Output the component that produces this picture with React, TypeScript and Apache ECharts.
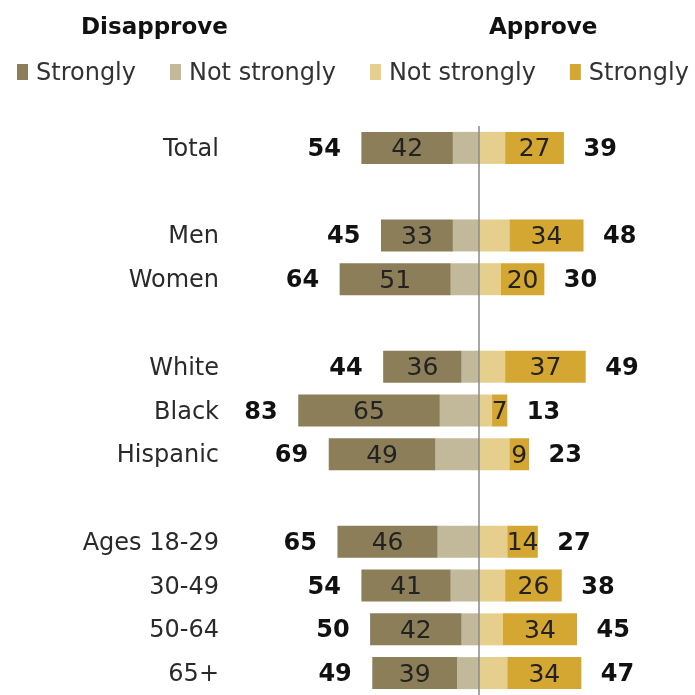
import React, { useEffect, useRef } from "react";
import * as echarts from "echarts";

const categories = ["Total", "", "Men", "Women", " ", "White", "Black", "Hispanic", "  ", "Ages 18-29", "30-49", "50-64", "65+"];
const disapproveTotal = [54, null, 45, 64, null, 44, 83, 69, null, 65, 54, 50, 49];
const disapproveStrongly = [42, null, 33, 51, null, 36, 65, 49, null, 46, 41, 42, 39];
const disapproveNotStrongly = [12, null, 12, 13, null, 8, 18, 20, null, 19, 13, 8, 10];
const approveNotStrongly = [12, null, 14, 10, null, 12, 6, 14, null, 13, 12, 11, 13];
const approveStrongly = [27, null, 34, 20, null, 37, 7, 9, null, 14, 26, 34, 34];
const approveTotal = [39, null, 48, 30, null, 49, 13, 23, null, 27, 38, 45, 47];

const FONT = "DejaVu Sans";
const C_DIS_STRONG = "#8C7E58";
const C_DIS_NOT = "#C2B99B";
const C_APP_NOT = "#E6CF8C";
const C_APP_STRONG = "#D4A632";

export default function App() {
  const ref = useRef<HTMLDivElement>(null);
  useEffect(() => {
    if (!ref.current) return;
    const chart = echarts.init(ref.current, null, { renderer: "svg" });
    const neg = (arr: (number | null)[]) => arr.map((v) => (v == null ? null : -v));
    const absFmt = (p: any) => {
      const v = Array.isArray(p.value) ? p.value[0] : p.value;
      return v == null ? "" : String(Math.abs(v));
    };
    const barBase = {
      type: "bar",
      stack: "s",
      barWidth: 32,
    };
    chart.setOption({
      animation: false,
      textStyle: { fontFamily: FONT },
      title: [
        { text: "Disapprove", left: 76, top: 9, textStyle: { fontFamily: FONT, fontSize: 23, fontWeight: "bold", color: "#111" } },
        { text: "Approve", left: 484, top: 9, textStyle: { fontFamily: FONT, fontSize: 23, fontWeight: "bold", color: "#111" } },
      ],
      legend: {
        left: 12,
        top: 55,
        icon: "rect",
        itemWidth: 11,
        itemHeight: 16,
        itemGap: 34,
        selectedMode: false,
        data: ["Disapprove: Strongly", "Disapprove: Not strongly", "Approve: Not strongly", "Approve: Strongly"],
        formatter: (name: string) => name.split(": ")[1],
        textStyle: { fontFamily: FONT, fontSize: 24, color: "#333", padding: [0, 0, 0, 3] },
      },
      grid: { left: 283, width: 392, top: 126, height: 569 },
      xAxis: {
        type: "value",
        min: -90,
        max: 90,
        show: false,
      },
      yAxis: {
        type: "category",
        inverse: true,
        data: categories,
        axisLine: { show: false, onZero: false },
        axisTick: { show: false },
        axisLabel: { margin: 64, fontFamily: FONT, fontSize: 24, color: "#2a2a2a" },
      },
      series: [
        {
          ...barBase,
          name: "Disapprove: Not strongly",
          itemStyle: { color: C_DIS_NOT },
          data: neg(disapproveNotStrongly),
          markLine: {
            silent: true,
            symbol: "none",
            label: { show: false },
            lineStyle: { color: "#8a8a8a", width: 1.5, type: "solid" },
            data: [{ xAxis: 0 }],
          },
        },
        {
          ...barBase,
          name: "Disapprove: Strongly",
          itemStyle: { color: C_DIS_STRONG },
          data: neg(disapproveStrongly),
          label: { show: true, position: "inside", formatter: absFmt, fontFamily: FONT, fontSize: 25, color: "#222" },
        },
        {
          ...barBase,
          name: "Approve: Not strongly",
          itemStyle: { color: C_APP_NOT },
          data: approveNotStrongly,
        },
        {
          ...barBase,
          name: "Approve: Strongly",
          itemStyle: { color: C_APP_STRONG },
          data: approveStrongly,
          label: { show: true, position: "inside", formatter: absFmt, fontFamily: FONT, fontSize: 25, color: "#222" },
        },
        {
          type: "scatter",
          name: "Disapprove total",
          symbolSize: 1,
          itemStyle: { color: "rgba(0,0,0,0)", opacity: 1 },
          data: disapproveTotal.map((v, i) => (v == null ? null : [-v, i])).filter((d) => d),
          label: { show: true, position: "left", distance: 20, formatter: absFmt, fontFamily: FONT, fontSize: 24, fontWeight: "bold", color: "#111", opacity: 1 },
        },
        {
          type: "scatter",
          name: "Approve total",
          symbolSize: 1,
          itemStyle: { color: "rgba(0,0,0,0)", opacity: 1 },
          data: approveTotal.map((v, i) => (v == null ? null : [v, i])).filter((d) => d),
          label: { show: true, position: "right", distance: 19, formatter: absFmt, fontFamily: FONT, fontSize: 24, fontWeight: "bold", color: "#111", opacity: 1 },
        },
      ],
    });
    return () => chart.dispose();
  }, []);
  return <div ref={ref} style={{ position: "fixed", left: 0, top: 0, width: 695, height: 695 }} />;
}
